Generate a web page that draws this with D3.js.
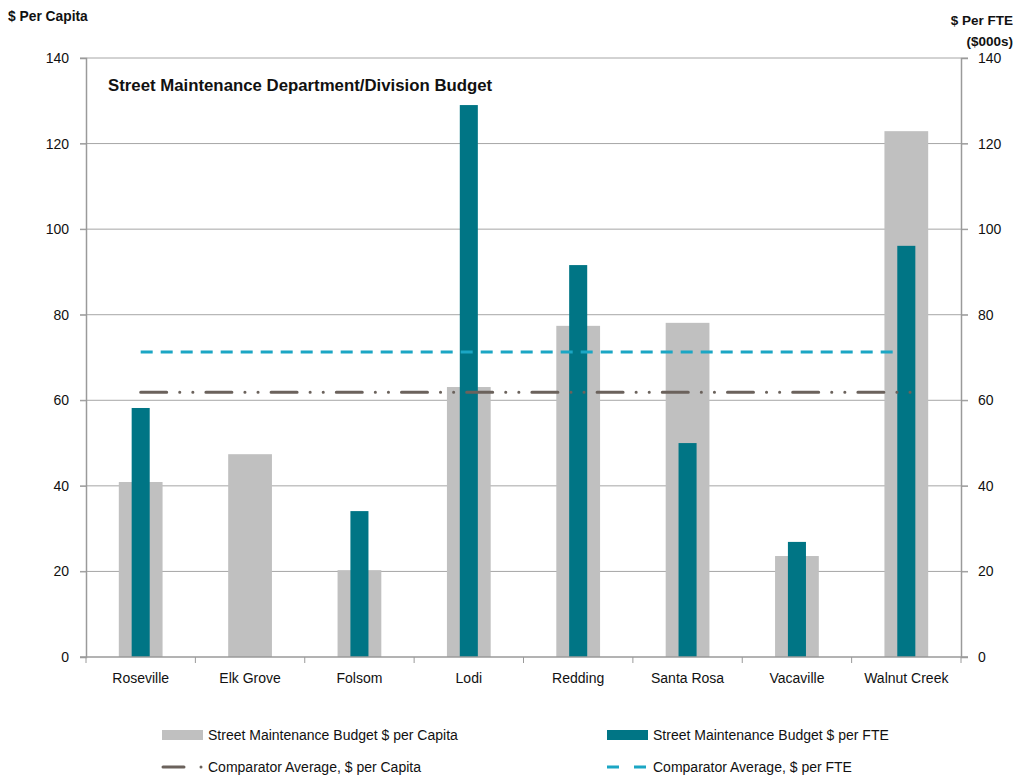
<!DOCTYPE html>
<html>
<head>
<meta charset="utf-8">
<script src="https://cdn.jsdelivr.net/npm/d3@7"></script>
<style>
  html, body { margin: 0; padding: 0; background: #fff; }
  svg { display: block; font-family: "Liberation Sans", Arial, sans-serif; }
</style>
</head>
<body>
<svg id="chart" width="1025" height="776"></svg>
<script>
// City list and budget figures
const cities = ["Roseville", "Elk Grove", "Folsom", "Lodi", "Redding", "Santa Rosa", "Vacaville", "Walnut Creek"];
const perCapita = [40.9, 47.4, 20.3, 63.1, 77.4, 78.1, 23.6, 122.9];
const perFTE = [58.2, null, 34.1, 129.0, 91.6, 50.0, 26.9, 96.1];
const avgPerCapita = 61.9;
const avgPerFTE = 71.3;
const yTicks = [0, 20, 40, 60, 80, 100, 120, 140];

(function () {
const svg = d3.select("#chart");
const plotL = 86, plotR = 961, plotT = 58, plotB = 657;

const x = d3.scaleBand().domain(cities).range([plotL, plotR]);
const y = d3.scaleLinear().domain([0, 140]).range([plotB, plotT]);

// Horizontal gridlines
svg.append("g").selectAll("line").data(yTicks.slice(1)).join("line")
  .attr("x1", plotL - 6).attr("x2", plotR + 7)
  .attr("y1", d => y(d)).attr("y2", d => y(d))
  .attr("stroke", "#a6a6a6").attr("stroke-width", 1);

// Per-capita bars (wide, grey)
const wideW = x.bandwidth() * 0.4;
svg.append("g").selectAll("rect").data(cities).join("rect")
  .attr("x", d => x(d) + (x.bandwidth() - wideW) / 2)
  .attr("width", wideW)
  .attr("y", (d, i) => y(perCapita[i]))
  .attr("height", (d, i) => y(0) - y(perCapita[i]))
  .attr("fill", "#c0c0c0");

// Per-FTE bars (narrow, teal)
const narrowW = x.bandwidth() * 0.165;
svg.append("g").selectAll("rect").data(cities.filter((d, i) => perFTE[i] != null)).join("rect")
  .attr("x", d => x(d) + (x.bandwidth() - narrowW) / 2)
  .attr("width", narrowW)
  .attr("y", d => y(perFTE[cities.indexOf(d)]))
  .attr("height", d => y(0) - y(perFTE[cities.indexOf(d)]))
  .attr("fill", "#007585");

// Comparator average lines
const cx0 = x(cities[0]) + x.bandwidth() / 2;
const cx1 = x(cities[cities.length - 1]) + x.bandwidth() / 2;
svg.append("line")
  .attr("x1", cx0).attr("x2", cx1 + 14)
  .attr("y1", y(avgPerCapita)).attr("y2", y(avgPerCapita))
  .attr("stroke", "#6b625c").attr("stroke-width", 3)
  .attr("stroke-linecap", "round")
  .attr("stroke-dasharray", "26 13 0.1 13 0.1 13");
svg.append("line")
  .attr("x1", cx0).attr("x2", cx1 - 12)
  .attr("y1", y(avgPerFTE)).attr("y2", y(avgPerFTE))
  .attr("stroke", "#1ba6c4").attr("stroke-width", 3)
  .attr("stroke-dasharray", "12 8");

// Axes
const axisColor = "#9a9a9a";
const yl = svg.append("g").attr("transform", `translate(${plotL},0)`)
  .call(d3.axisLeft(y).tickValues(yTicks).tickSize(6).tickPadding(8));
const yr = svg.append("g").attr("transform", `translate(${plotR},0)`)
  .call(d3.axisRight(y).tickValues(yTicks).tickSize(7).tickPadding(10));
[yl, yr].forEach(g => {
  g.select(".domain").attr("stroke", axisColor).attr("stroke-width", 1.5);
  g.selectAll(".tick line").attr("stroke", axisColor);
  g.selectAll("text").attr("font-size", 14).attr("fill", "#111")
    .attr("font-family", "Liberation Sans, Arial, sans-serif");
});
yl.selectAll("text").attr("dx", -3);

// Category axis with ticks at band boundaries
const xg = svg.append("g");
xg.append("line").attr("x1", plotL - 6).attr("x2", plotR + 7)
  .attr("y1", plotB).attr("y2", plotB)
  .attr("stroke", axisColor).attr("stroke-width", 1.5);
xg.selectAll("line.b").data(d3.range(cities.length + 1)).join("line")
  .attr("class", "b")
  .attr("x1", i => plotL + i * x.bandwidth()).attr("x2", i => plotL + i * x.bandwidth())
  .attr("y1", plotB).attr("y2", plotB + 6)
  .attr("stroke", axisColor);
xg.selectAll("text").data(cities).join("text")
  .attr("x", d => x(d) + x.bandwidth() / 2)
  .attr("y", plotB + 26)
  .attr("text-anchor", "middle")
  .attr("font-size", 14).attr("fill", "#111")
  .text(d => d);

// Titles
svg.append("text").attr("x", 108).attr("y", 91)
  .attr("font-size", 16.8).attr("font-weight", "bold").attr("fill", "#111")
  .text("Street Maintenance Department/Division Budget");
svg.append("text").attr("x", 8).attr("y", 21)
  .attr("font-size", 13.8).attr("font-weight", "bold").attr("fill", "#111")
  .text("$ Per Capita");
svg.append("text").attr("x", 1013).attr("y", 25)
  .attr("text-anchor", "end")
  .attr("font-size", 13.5).attr("font-weight", "bold").attr("fill", "#111")
  .text("$ Per FTE");
svg.append("text").attr("x", 1013).attr("y", 46)
  .attr("text-anchor", "end")
  .attr("font-size", 13.5).attr("font-weight", "bold").attr("fill", "#111")
  .text("($000s)");

// Legend
const legend = [
  { label: "Street Maintenance Budget $ per Capita", x: 162, y: 735, type: "rect", color: "#c0c0c0" },
  { label: "Street Maintenance Budget $ per FTE", x: 607, y: 735, type: "rect", color: "#007585" },
  { label: "Comparator Average, $ per Capita", x: 162, y: 767, type: "dashdot", color: "#6b625c" },
  { label: "Comparator Average, $ per FTE", x: 607, y: 767, type: "dash", color: "#1ba6c4" }
];
const lg = svg.append("g").selectAll("g").data(legend).join("g")
  .attr("transform", d => `translate(${d.x},${d.y})`);
lg.filter(d => d.type === "rect").append("rect")
  .attr("x", 0).attr("y", -5).attr("width", 41).attr("height", 10)
  .attr("fill", d => d.color);
lg.filter(d => d.type === "dashdot").append("line")
  .attr("x1", 1).attr("x2", 22).attr("y1", 0).attr("y2", 0)
  .attr("stroke", d => d.color).attr("stroke-width", 3).attr("stroke-linecap", "round");
lg.filter(d => d.type === "dashdot").append("circle")
  .attr("cx", 39).attr("cy", 0).attr("r", 1.5).attr("fill", d => d.color);
lg.filter(d => d.type === "dash").append("line")
  .attr("x1", 0).attr("x2", 41).attr("y1", 0).attr("y2", 0)
  .attr("stroke", d => d.color).attr("stroke-width", 3)
  .attr("stroke-dasharray", "12 15");
lg.append("text").attr("x", 46).attr("y", 5)
  .attr("font-size", 14).attr("fill", "#111")
  .text(d => d.label);
})();
</script>
</body>
</html>
